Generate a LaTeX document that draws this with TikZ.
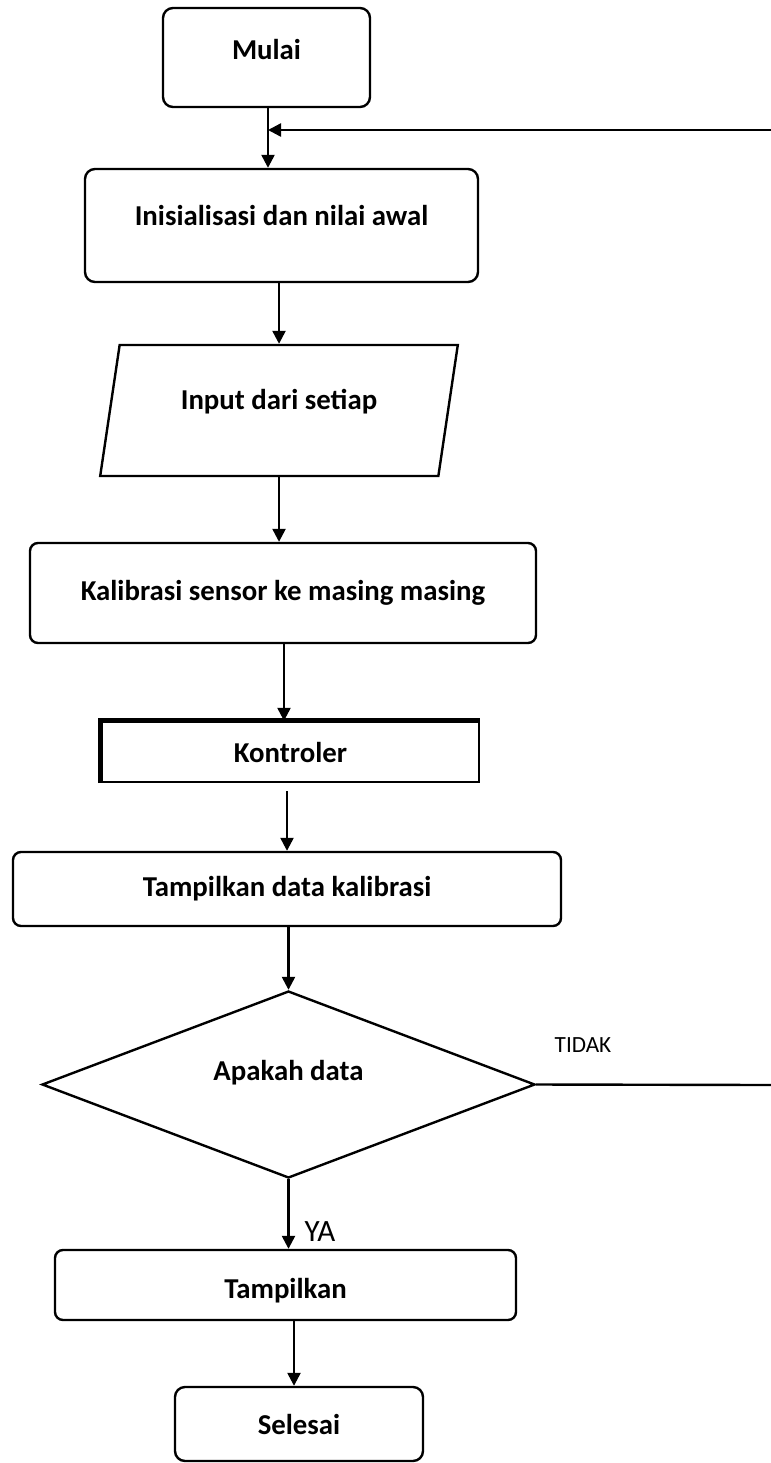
\documentclass[tikz,border=0pt]{standalone}
\usepackage{fontspec}
\setmainfont{Carlito}
\usetikzlibrary{arrows.meta,shapes.geometric}
\tikzset{
  base/.style={draw, line width=1.2pt, font=\bfseries\fontsize{14.4}{16}\selectfont, inner sep=2pt},
  startstop/.style={base, rectangle, rounded corners=5pt},
  process/.style={base, rectangle, rounded corners=4pt},
  io/.style={base, trapezium, trapezium left angle=76, trapezium right angle=104, trapezium stretches=true},
  decision/.style={base, diamond, aspect=2.64},
  arr/.style={-{Triangle[width=6.5pt,length=6.5pt]}, line width=1.2pt},
}
\begin{document}
\begin{tikzpicture}[x=0.5pt, y=-0.5pt]
    \useasboundingbox (0,0) rectangle (771,1463);

    % ---------------------------------------------
    % boxes, top to bottom
    \node[startstop, minimum width=103.5pt, minimum height=49.5pt, text height=10pt, text depth=8pt] (mulai) at (266.5,57.5) {Mulai};
    \node[startstop, minimum width=196.5pt, minimum height=56.5pt, text height=10pt, text depth=10pt] (init) at (281.5,225.5) {Inisialisasi dan nilai awal};
    \node[io, minimum width=179pt, minimum height=65.5pt, text height=10pt, text depth=11pt] (input) at (279,410.5) {Input dari setiap};
    \node[process, minimum width=253pt, minimum height=50pt] (kalib) at (283,593) {Kalibrasi sensor ke masing masing};
    \node[base, minimum width=188.5pt, minimum height=30pt] (kontrol) at (290.5,752) {Kontroler};
    \draw[line width=2.5pt] (kontrol.south west) |- (kontrol.north east);
    \node[process, minimum width=274pt, minimum height=37pt] (tampildata) at (287,889) {Tampilkan data kalibrasi};
    \node[decision, minimum width=246.5pt, minimum height=93.5pt, text height=10pt, text depth=14pt] (cek) at (288.5,1084.5) {Apakah data};
    \node[process, minimum width=230.5pt, minimum height=35pt, text height=16.5pt, text depth=3pt] (tampil) at (285.5,1285) {Tampilkan};
    \node[startstop, minimum width=124pt, minimum height=37pt] (selesai) at (299,1424) {Selesai};

    % ---------------------------------------------
    % labels of the two branches
    \node[font=\fontsize{11.6}{13}\selectfont] (tidak) at (583,1045) {TIDAK};
    \node[font=\fontsize{15.5}{17}\selectfont] (ya) at (320,1232) {YA};

    % ---------------------------------------------
    % flow
    \coordinate (join) at (268,130);
    \coordinate (back) at (771,130);
    \coordinate (tepi) at (771,1085);
    \draw[arr] (join |- mulai.south) -- (join |- init.north);
    \draw[arr] (back) -- (join);
    \draw[arr] (input.north |- init.south) -- (input.north);
    \draw[arr] (input.south) -- (input.south |- kalib.north);
    \draw[arr] (284,0 |- kalib.south) -- (284,0 |- kontrol.north);
    \draw[arr, shorten <=4pt] (287,0 |- kontrol.south) -- (287,0 |- tampildata.north);
    \draw[arr] (tampildata.south -| cek.north) -- (cek.north);
    \draw[arr] (cek.south) -- (cek.south |- tampil.north);
    \draw[arr] (294,0 |- tampil.south) -- (294,0 |- selesai.north);
    \draw[line width=1.2pt] (cek.east) -- (tepi);

\end{tikzpicture}
\end{document}
